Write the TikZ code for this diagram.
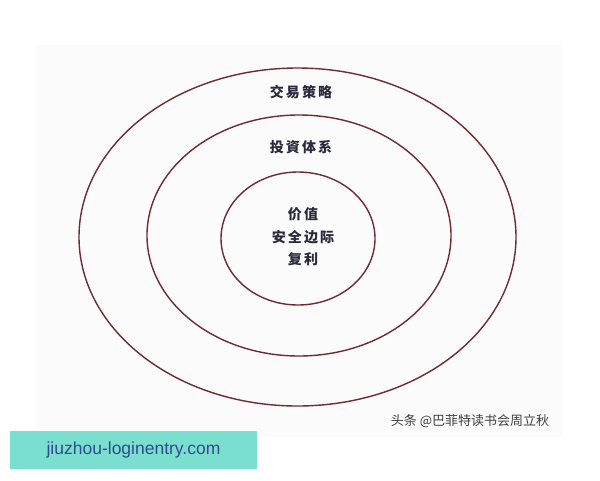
\documentclass[tikz,border=0pt]{standalone}
\usepackage{fontspec}
\setmainfont{Liberation Sans}
\newfontfamily\cjk[LetterSpace=15]{Noto Sans CJK SC}
\newfontfamily\cjkmark{Noto Sans CJK SC}
\definecolor{ringred}{HTML}{6E2B30}
\definecolor{ink}{HTML}{2A2A3E}
\definecolor{paper}{HTML}{FBFBFC}
\definecolor{band}{HTML}{7BDFCF}
\definecolor{link}{HTML}{2F4C8C}
\begin{document}
\begin{tikzpicture}[x=1pt,y=-1pt,
	ring/.style={draw=ringred,line width=1.4pt},
	level/.style={font=\cjk\bfseries\fontsize{14}{22.5}\selectfont,text=ink,align=center}]
	\useasboundingbox (0,0) rectangle (600,480);
	\fill[white] (0,0) rectangle (600,480);
	\fill[paper] (36,45) rectangle (562,437);
	% rings
	\draw[ring] (297.5,237) ellipse [x radius=218.5,y radius=169];
	\draw[ring] (299,235.5) ellipse [x radius=152,y radius=120.5];
	\draw[ring] (298,238.5) ellipse [x radius=77,y radius=66.5];
	% labels
	\node[level] (strategy) at (301,92) {交易策略};
	\node[level] (system) at (301,147) {投資体系};
	\node[level] (core) at (303,237) {价值\\安全边际\\复利};
	\node[font=\cjkmark\fontsize{13}{13}\selectfont,text=black!75] (mark) at (470,421) {头条 @巴菲特读书会周立秋};
	\node[fill=band,minimum width=247pt,minimum height=38pt,inner sep=0pt,
		font=\fontsize{17.5}{17.5}\selectfont,text=link] (site) at (133.5,450) {jiuzhou-loginentry.com};
\end{tikzpicture}
\end{document}
